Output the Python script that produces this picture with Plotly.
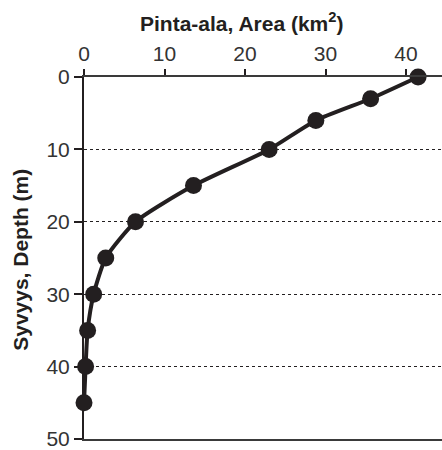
import plotly.graph_objects as go

# Hypsographic curve: lake area at each depth
depth_m = [0, 3, 6, 10, 15, 20, 25, 30, 35, 40, 45]
area_km2 = [41.5, 35.6, 28.8, 23.0, 13.6, 6.4, 2.7, 1.2, 0.45, 0.2, 0.0]

x_ticks = [0, 10, 20, 30, 40]
y_ticks = [0, 10, 20, 30, 40, 50]

ink = "#231f20"
font = "Liberation Sans, Arial, sans-serif"

fig = go.Figure()
fig.add_trace(go.Scatter(
    x=area_km2, y=depth_m,
    mode="lines+markers",
    line=dict(color=ink, width=4, shape="spline", smoothing=0.6),
    marker=dict(color=ink, size=17),
    showlegend=False, cliponaxis=False,
))

fig.update_layout(
    width=442, height=450,
    margin=dict(l=84, r=0, t=77, b=11),
    paper_bgcolor="white", plot_bgcolor="white",
    font=dict(family=font, size=21, color=ink),
    xaxis=dict(
        side="top", range=[0, 44.47], tickvals=x_ticks,
        showgrid=False, zeroline=False,
        showline=True, linecolor="#3a3a3a", linewidth=2, mirror=True,
        ticks="outside", ticklen=6, tickwidth=1.5, tickcolor=ink,
        tickfont=dict(size=21, color="#333333"),
        ticklabeloverflow="allow",
    ),
    yaxis=dict(
        range=[50, 0], tickvals=y_ticks,
        showgrid=True, gridcolor=ink, gridwidth=1, griddash="dot",
        zeroline=False,
        showline=True, linecolor=ink, linewidth=2,
        ticks="outside", ticklen=8, tickwidth=1.5, tickcolor=ink,
        tickfont=dict(size=21, color="#333333"),
        ticklabeloverflow="allow",
    ),
    annotations=[
        dict(text="<b>Pinta-ala, Area (km<sup>2</sup>)</b>",
             xref="paper", yref="paper", x=0.441, y=1.152,
             xanchor="center", yanchor="middle", showarrow=False,
             font=dict(size=21, color=ink, family=font)),
        dict(text="<b>Syvyys, Depth (m)</b>", textangle=-90,
             xref="paper", yref="paper", x=-0.176, y=0.495,
             xanchor="center", yanchor="middle", showarrow=False,
             font=dict(size=21, color=ink, family=font)),
    ],
)

fig.write_html("out.html")
